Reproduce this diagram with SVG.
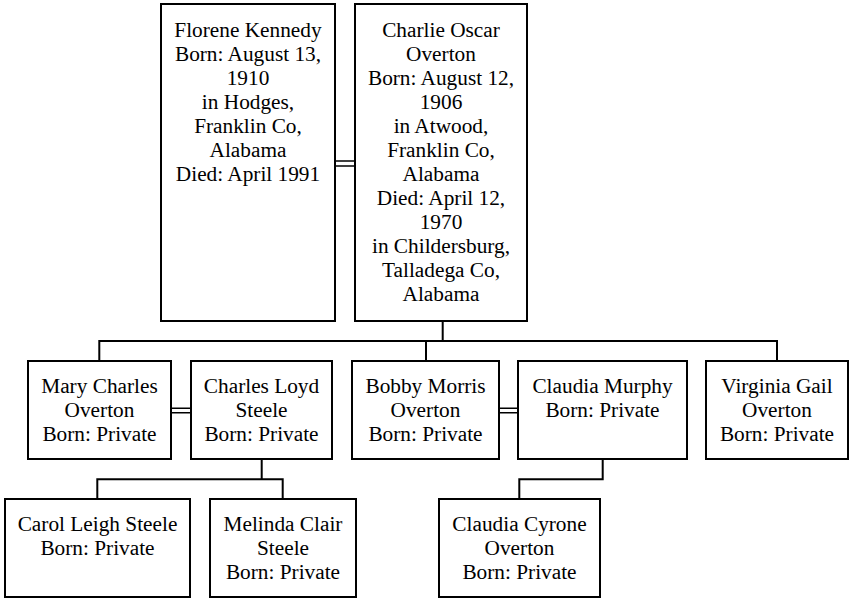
<svg xmlns="http://www.w3.org/2000/svg" width="849" height="600" viewBox="0 0 849 600">
<style>
.box{fill:#fff;stroke:#000;stroke-width:2}
.t{font-family:'Liberation Serif','Times New Roman',Times,'DejaVu Serif',serif;font-size:21.3px;fill:#000;text-anchor:middle}
.c{fill:none;stroke:#000;stroke-width:2}
.m{fill:none;stroke:#000;stroke-width:1.6}
</style>
<rect width="849" height="600" fill="#fff"/>
<g id="connectors">
<path class="m" d="M336 161H354M336 166H354"/>
<path class="m" d="M172 408.3H190M172 412.7H190"/>
<path class="m" d="M500 408.3H517M500 412.7H517"/>
<path class="c" d="M442.7 322V341M99.3 361V341H777V361M426 341V361"/>
<path class="c" d="M261.7 460V479.3M97.3 499V479.3H282.7V499"/>
<path class="c" d="M602.7 460V479.3H519.3V499"/>
</g>
<g id="florene">
<rect class="box" x="161" y="4" width="174" height="317"/>
<text class="t" font-family="Liberation Serif, serif"><tspan x="248" y="36.5">Florene Kennedy</tspan><tspan x="248" y="60.5">Born: August 13,</tspan><tspan x="248" y="84.5">1910</tspan><tspan x="248" y="108.5">in Hodges,</tspan><tspan x="248" y="132.5">Franklin Co,</tspan><tspan x="248" y="156.5">Alabama</tspan><tspan x="248" y="180.5">Died: April 1991</tspan></text>
</g>
<g id="charlie">
<rect class="box" x="355" y="4" width="172" height="317"/>
<text class="t"><tspan x="441" y="36.5">Charlie Oscar</tspan><tspan x="441" y="60.5">Overton</tspan><tspan x="441" y="84.5">Born: August 12,</tspan><tspan x="441" y="108.5">1906</tspan><tspan x="441" y="132.5">in Atwood,</tspan><tspan x="441" y="156.5">Franklin Co,</tspan><tspan x="441" y="180.5">Alabama</tspan><tspan x="441" y="204.5">Died: April 12,</tspan><tspan x="441" y="228.5">1970</tspan><tspan x="441" y="252.5">in Childersburg,</tspan><tspan x="441" y="276.5">Talladega Co,</tspan><tspan x="441" y="300.5">Alabama</tspan></text>
</g>
<g id="mary">
<rect class="box" x="28" y="361" width="143" height="98"/>
<text class="t"><tspan x="99.5" y="393.3">Mary Charles</tspan><tspan x="99.5" y="417.3">Overton</tspan><tspan x="99.5" y="441.3">Born: Private</tspan></text>
</g>
<g id="charles">
<rect class="box" x="191" y="361" width="141" height="98"/>
<text class="t"><tspan x="261.5" y="393.3">Charles Loyd</tspan><tspan x="261.5" y="417.3">Steele</tspan><tspan x="261.5" y="441.3">Born: Private</tspan></text>
</g>
<g id="bobby">
<rect class="box" x="352" y="361" width="147" height="98"/>
<text class="t"><tspan x="425.5" y="393.3">Bobby Morris</tspan><tspan x="425.5" y="417.3">Overton</tspan><tspan x="425.5" y="441.3">Born: Private</tspan></text>
</g>
<g id="claudia-murphy">
<rect class="box" x="518" y="361" width="169" height="98"/>
<text class="t"><tspan x="602.5" y="393.3">Claudia Murphy</tspan><tspan x="602.5" y="417.3">Born: Private</tspan></text>
</g>
<g id="virginia">
<rect class="box" x="706" y="361" width="142" height="98"/>
<text class="t"><tspan x="777" y="393.3">Virginia Gail</tspan><tspan x="777" y="417.3">Overton</tspan><tspan x="777" y="441.3">Born: Private</tspan></text>
</g>
<g id="carol">
<rect class="box" x="5" y="499" width="185" height="98"/>
<text class="t"><tspan x="97.5" y="530.7">Carol Leigh Steele</tspan><tspan x="97.5" y="554.7">Born: Private</tspan></text>
</g>
<g id="melinda">
<rect class="box" x="210" y="499" width="146" height="98"/>
<text class="t"><tspan x="283" y="530.7">Melinda Clair</tspan><tspan x="283" y="554.7">Steele</tspan><tspan x="283" y="578.7">Born: Private</tspan></text>
</g>
<g id="claudia-cyrone">
<rect class="box" x="439" y="499" width="161" height="98"/>
<text class="t"><tspan x="519.5" y="530.7">Claudia Cyrone</tspan><tspan x="519.5" y="554.7">Overton</tspan><tspan x="519.5" y="578.7">Born: Private</tspan></text>
</g>
</svg>
